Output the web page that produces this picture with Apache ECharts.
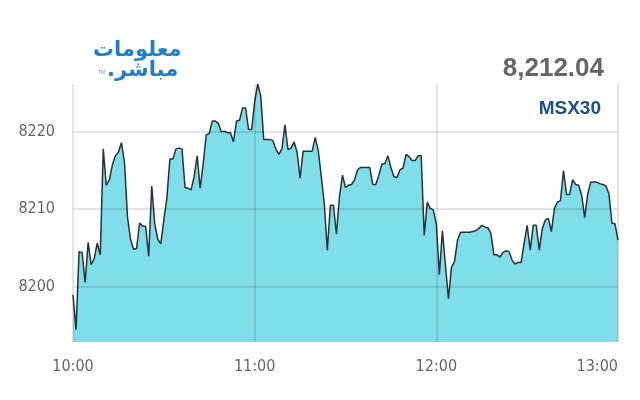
<!DOCTYPE html>
<html>
<head>
<meta charset="utf-8">
<script src="https://cdn.jsdelivr.net/npm/echarts@6/dist/echarts.min.js"></script>
<style>
  html, body { margin: 0; padding: 0; background: #fff; }
  #chart { width: 640px; height: 400px; }
</style>
</head>
<body>
<div id="chart"></div>
<script>
// 时间刻度 (每分钟一个点, 10:00 - 13:00)
var hourLabels = ['10:00', '11:00', '12:00', '13:00'];
// MSX30 指数分钟数据
var indexValues = [
  8198.9, 8194.4, 8204.5, 8204.4, 8200.5, 8205.7, 8202.8, 8203.6, 8205.6, 8204.1,
  8217.8, 8213.1, 8213.8, 8215.7, 8216.9, 8217.4, 8218.6, 8216.1, 8209.0, 8206.1,
  8204.8, 8204.9, 8208.2, 8207.8, 8207.8, 8203.9, 8213.0, 8208.1, 8206.1, 8205.5,
  8208.6, 8211.4, 8216.5, 8216.5, 8217.8, 8217.9, 8217.8, 8212.8, 8212.7, 8212.5,
  8214.2, 8216.9, 8212.7, 8215.9, 8219.6, 8219.8, 8221.4, 8221.4, 8221.1, 8220.0,
  8220.1, 8219.9, 8219.9, 8218.7, 8221.4, 8221.5, 8223.1, 8223.1, 8220.3, 8220.3,
  8223.9, 8226.2, 8224.7, 8219.0, 8219.0, 8219.0, 8218.9, 8217.8, 8217.1, 8217.8,
  8220.9, 8217.7, 8217.9, 8218.7, 8217.4, 8214.0, 8217.5, 8217.5, 8217.5, 8217.5,
  8219.3, 8217.6, 8214.2, 8210.7, 8204.7, 8210.5, 8210.5, 8206.8, 8211.6, 8214.4,
  8212.8, 8213.1, 8213.2, 8213.8, 8215.1, 8215.4, 8215.4, 8215.4, 8215.4, 8213.2,
  8213.2, 8214.4, 8215.8, 8215.9, 8216.9, 8215.4, 8214.2, 8214.1, 8215.1, 8215.3,
  8217.1, 8216.8, 8216.3, 8216.3, 8216.9, 8216.9, 8206.6, 8210.9, 8210.1, 8209.9,
  8208.1, 8201.5, 8207.2, 8202.8, 8198.4, 8202.5, 8203.2, 8206.0, 8207.0, 8207.0,
  8207.0, 8207.0, 8207.1, 8207.2, 8207.5, 8207.9, 8207.7, 8207.6, 8206.9, 8204.1,
  8204.1, 8203.8, 8204.4, 8204.6, 8204.5, 8203.4, 8202.9, 8203.1, 8203.1, 8205.6,
  8207.9, 8204.7, 8207.9, 8207.9, 8204.7, 8207.5, 8208.6, 8208.8, 8207.1, 8210.1,
  8210.9, 8211.1, 8215.0, 8211.9, 8211.9, 8213.8, 8213.2, 8213.1, 8211.8, 8208.9,
  8212.0, 8213.5, 8213.5, 8213.5, 8213.3, 8213.2, 8213.0, 8212.0, 8208.2, 8208.1,
  8206.0
];
var lastValue = '8,212.04';
var indexName = 'MSX30';

var chart = echarts.init(document.getElementById('chart'));
var lineData = indexValues.map(function (v, i) { return [i, v]; });

chart.setOption({
  animation: false,
  grid: { left: 73, right: 22, top: 84, bottom: 58 },
  xAxis: {
    type: 'value',
    min: 0,
    max: 180,
    interval: 60,
    z: 5,
    axisLine: { show: false },
    axisTick: { show: false },
    axisLabel: {
      color: '#666',
      fontSize: 16,
      fontFamily: 'DejaVu Sans Condensed, Roboto, sans-serif',
      margin: 17,
      alignMaxLabel: 'right',
      formatter: function (v) { return hourLabels[v / 60]; }
    },
    splitLine: { show: true, lineStyle: { color: 'rgba(0,0,0,0.14)', width: 1.5 } }
  },
  yAxis: {
    type: 'value',
    min: 8192.8,
    max: 8226.2,
    splitNumber: 3,
    z: 5,
    axisLine: { show: false },
    axisTick: { show: false },
    axisLabel: {
      color: '#666',
      fontSize: 16,
      fontFamily: 'DejaVu Sans Condensed, Roboto, sans-serif',
      margin: 18,
      showMinLabel: false,
      showMaxLabel: false,
      formatter: function (v) { return String(v); }
    },
    splitLine: {
      show: true,
      showMinLine: false,
      showMaxLine: false,
      lineStyle: { color: 'rgba(0,0,0,0.14)', width: 1.5 }
    }
  },
  series: [{
    type: 'line',
    data: lineData,
    symbol: 'none',
    lineStyle: { color: '#263238', width: 1.5 },
    areaStyle: { color: '#80DEEA', opacity: 1, origin: 'start' }
  }],
  graphic: [
    {
      type: 'text', right: 36, top: 56,
      style: { text: lastValue, fill: '#666', font: 'bold 26px "Liberation Sans", Arial, sans-serif' }
    },
    {
      type: 'text', right: 39, top: 99,
      style: { text: indexName, fill: '#1a4e8c', font: 'bold 19px "Liberation Sans", Arial, sans-serif' }
    },
    {
      type: 'text', left: 93, top: 40,
      style: { text: 'معلومات', fill: '#1f7fcb', font: 'bold 21px "DejaVu Sans", sans-serif' }
    },
    {
      type: 'text', left: 107, top: 60,
      style: { text: '.مباشر', fill: '#1f7fcb', font: 'bold 21px "DejaVu Sans", sans-serif' }
    },
    {
      type: 'text', left: 98, top: 70,
      style: { text: 'TM', fill: '#888', font: '5px sans-serif' }
    }
  ]
});
</script>
</body>
</html>
